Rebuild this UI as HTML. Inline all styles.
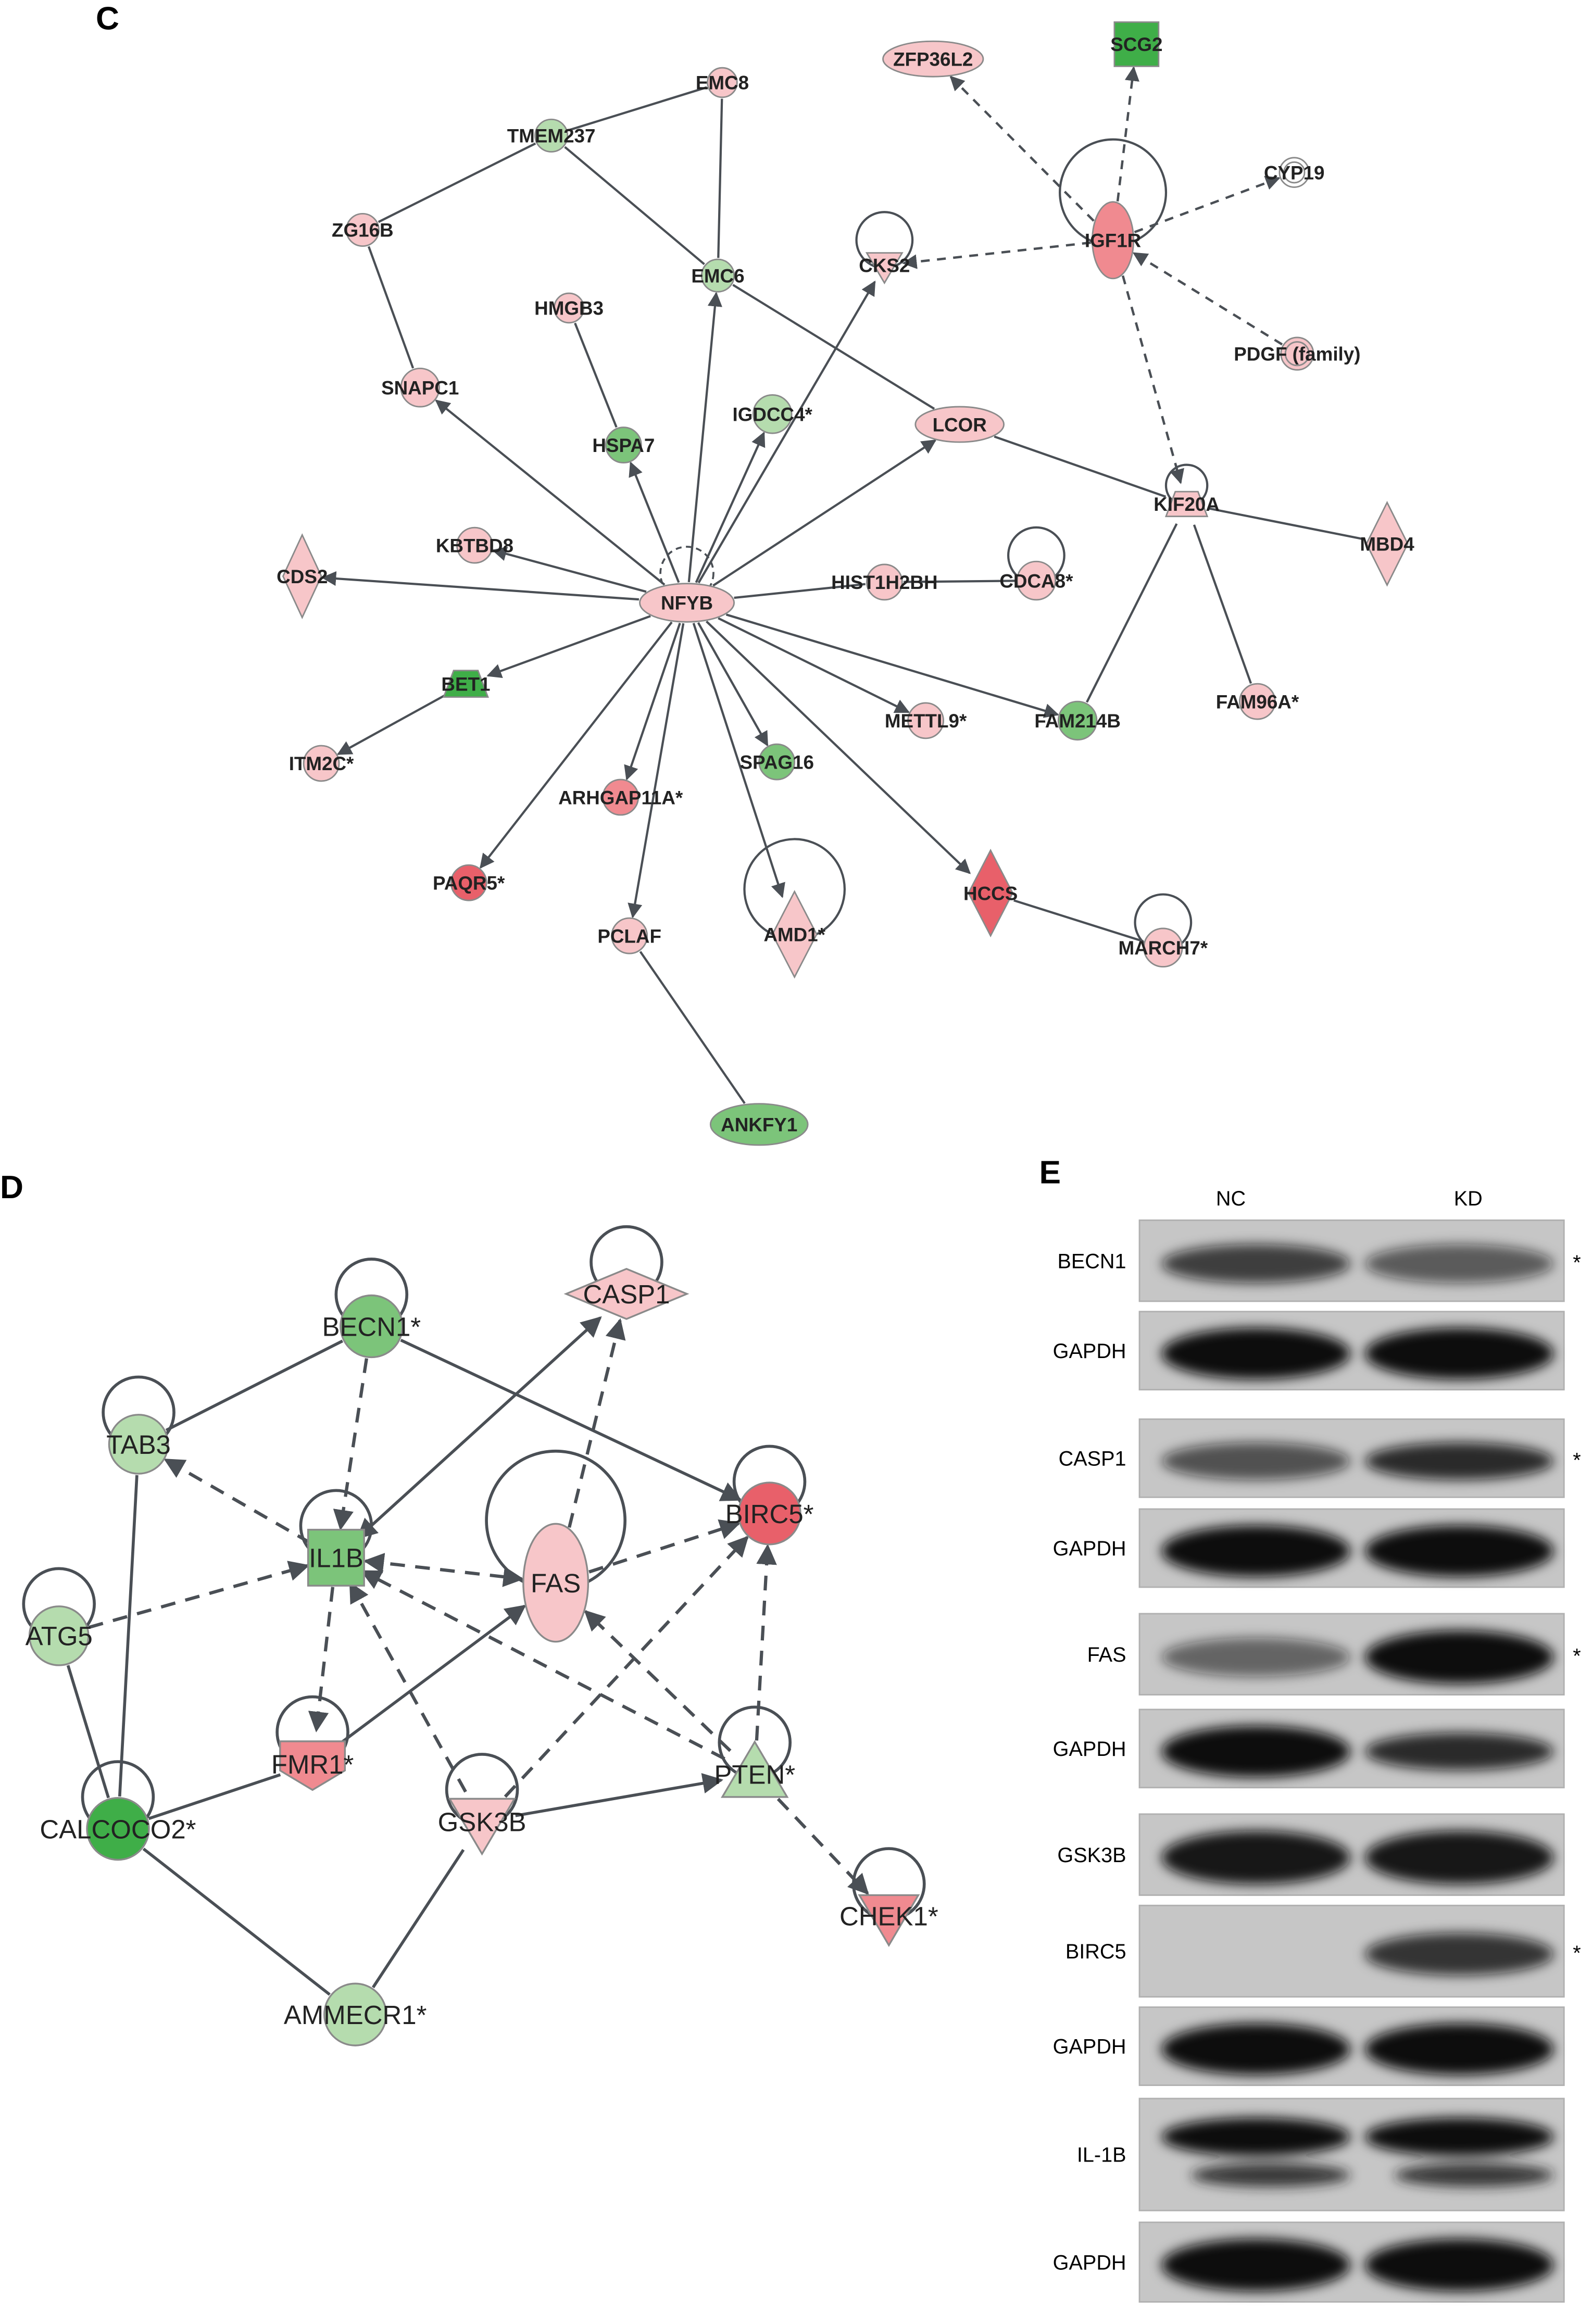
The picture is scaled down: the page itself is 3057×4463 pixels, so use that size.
<!DOCTYPE html>
<html><head><meta charset="utf-8"><style>
html,body{margin:0;padding:0;background:#fff;}
svg{display:block;}
text{font-family:"Liberation Sans",sans-serif;}
</style></head><body>
<svg id="s" xmlns="http://www.w3.org/2000/svg" width="3057" height="4463" viewBox="0 0 1080 1577" preserveAspectRatio="none">
<defs>
<marker id="ar2" viewBox="0 0 10 10" refX="9" refY="5" markerWidth="14" markerHeight="14" orient="auto-start-reverse" markerUnits="userSpaceOnUse"><path d="M0,0L10,5L0,10z" fill="#4a4f55"/></marker>
<marker id="ar1" viewBox="0 0 10 10" refX="9" refY="5" markerWidth="10" markerHeight="10" orient="auto-start-reverse" markerUnits="userSpaceOnUse"><path d="M0,0L10,5L0,10z" fill="#4a4f55"/></marker>
<filter id="bl" x="-20%" y="-50%" width="140%" height="200%"><feGaussianBlur stdDeviation="4"/></filter>
</defs>
<g id="edges"></g><g id="nodes"></g>
<text x="65" y="20" font-size="22" font-weight="bold">C</text>
<text x="0" y="813" font-size="22" font-weight="bold">D</text>
<text x="705" y="803" font-size="22" font-weight="bold">E</text>
<g id="blot"></g>
</svg>
<script>
var NS="http://www.w3.org/2000/svg",E=document.getElementById('edges'),N=document.getElementById('nodes'),B=document.getElementById('blot');
function el(p,t,a,txt){var e=document.createElementNS(NS,t);for(var k in a)e.setAttribute(k,a[k]);if(txt)e.textContent=txt;p.appendChild(e);return e;}
var P='#f7c6c9',R='#f08a90',RR='#e8606a',G='#7cc47a',LG='#b5dcae',DG='#3fae48';
var C={
EMC8:[490,56,'c',P,10],TMEM237:[374,92,'c',LG,11],ZG16B:[246,156,'c',P,11],EMC6:[487,187,'c',LG,11],
HMGB3:[386,209,'c',P,10],CKS2:[600,180,'tv',P,12,'CKS2',1],IGF1R:[755,163,'e',R,[14,26],'IGF1R*',1],
ZFP36L2:[633,40,'e',P,[34,12]],SCG2:[771,30,'sq',DG,15],CYP19:[878,117,'dc','#fff',10],'PDGF (family)':[880,240,'dc',P,11],
SNAPC1:[285,263,'c',P,13],HSPA7:[423,302,'c',G,12],'IGDCC4*':[524,281,'c',LG,13],LCOR:[651,288,'e',P,[30,12]],
KIF20A:[805,342,'tr',P,14,'KIF20A',1],MBD4:[941,369,'d',P,[14,28]],KBTBD8:[322,370,'c',P,12],CDS2:[205,391,'d',P,[13,28]],
NFYB:[466,409,'e',P,[32,13]],HIST1H2BH:[600,395,'c',P,12],'CDCA8*':[703,394,'c',P,13,'CDCA8*',1],BET1:[316,464,'tr',DG,15],
'ITM2C*':[218,518,'c',P,12],'METTL9*':[628,489,'c',P,12],FAM214B:[731,489,'c',G,13],'FAM96A*':[853,476,'c',P,12],
SPAG16:[527,517,'c',G,12],'ARHGAP11A*':[421,541,'c',R,12],'PAQR5*':[318,599,'c',RR,12],PCLAF:[427,635,'c',P,12],
'AMD1*':[539,634,'d',P,[15,29],'AMD1*',2],HCCS:[672,606,'d',RR,[15,29]],'MARCH7*':[789,643,'c',P,13,'MARCH7*',1],
ANKFY1:[515,763,'e',G,[33,14]]};
var D={
'BECN1*':[252,900,'c',G,21,0,1],'CASP1':[425,878,'d',P,[41,17],0,1],TAB3:[94,980,'c',LG,20,0,1],IL1B:[228,1057,'sq',G,19,0,1],
FAS:[377,1074,'e',P,[22,40],0,3],'BIRC5*':[522,1027,'c',RR,21,0,1],ATG5:[40,1110,'c',LG,20,0,1],'FMR1*':[212,1197,'pent',R,22,0,1],
GSK3B:[327,1236,'tv',P,22,0,1],'PTEN*':[512,1204,'tu',LG,22,0,1],'CALCOCO2*':[80,1241,'c',DG,21,0,1],'CHEK1*':[603,1300,'tv',R,20,0,1],
'AMMECR1*':[241,1367,'c',LG,21]};
function rad(n,dx,dy){var r=n[4];if(typeof r==='object'){var a=Math.atan2(dy,dx);var c=Math.cos(a),s=Math.sin(a);return 1/Math.sqrt(c*c/(r[0]*r[0])+s*s/(r[1]*r[1]));}return r;}
function edge(M,a,b,opt){var A=M[a],Bn=M[b];var dx=Bn[0]-A[0],dy=Bn[1]-A[1],L=Math.hypot(dx,dy);var ra=rad(A,dx,dy)+1,rb=rad(Bn,-dx,-dy)+1;
var x1=A[0]+dx/L*ra,y1=A[1]+dy/L*ra,x2=Bn[0]-dx/L*rb,y2=Bn[1]-dy/L*rb;
var at={x1:x1,y1:y1,x2:x2,y2:y2,stroke:'#4a4f55','stroke-width':opt.w||1.6};
if(opt.d)at['stroke-dasharray']=opt.d;var mk=opt.big?'url(#ar2)':'url(#ar1)';
if(opt.e)at['marker-end']=mk;if(opt.s)at['marker-start']=mk;el(E,'line',at);}
function loop(n,big,sz,w){var x=n[0],y=n[1];var r=sz;el(E,'circle',{cx:x,cy:y-r*0.9,r:r,fill:'none',stroke:'#4a4f55','stroke-width':w});}
function drawNode(M,k,fs,lw){var n=M[k],x=n[0],y=n[1],s=n[2],c=n[3],r=n[4],at={fill:c,stroke:'#8a8a8a','stroke-width':lw};
if(s=='c')el(N,'circle',Object.assign({cx:x,cy:y,r:r},at));
else if(s=='dc'){el(N,'circle',Object.assign({cx:x,cy:y,r:r},at));el(N,'circle',{cx:x,cy:y,r:r-3,fill:'none',stroke:'#8a8a8a','stroke-width':lw});}
else if(s=='e')el(N,'ellipse',Object.assign({cx:x,cy:y,rx:r[0],ry:r[1]},at));
else if(s=='sq')el(N,'rect',Object.assign({x:x-r,y:y-r,width:2*r,height:2*r},at));
else if(s=='d')el(N,'polygon',Object.assign({points:(x-r[0])+','+y+' '+x+','+(y-r[1])+' '+(x+r[0])+','+y+' '+x+','+(y+r[1])},at));
else if(s=='tv')el(N,'polygon',Object.assign({points:(x-r)+','+(y-r*0.7)+' '+(x+r)+','+(y-r*0.7)+' '+x+','+(y+r)},at));
else if(s=='tu')el(N,'polygon',Object.assign({points:(x-r)+','+(y+r*0.7)+' '+(x+r)+','+(y+r*0.7)+' '+x+','+(y-r)},at));
else if(s=='tr')el(N,'polygon',Object.assign({points:(x-r)+','+(y+r*0.6)+' '+(x+r)+','+(y+r*0.6)+' '+(x+r*0.55)+','+(y-r*0.6)+' '+(x-r*0.55)+','+(y-r*0.6)},at));
else if(s=='pent')el(N,'polygon',Object.assign({points:(x-r)+','+(y-r*0.7)+' '+(x+r)+','+(y-r*0.7)+' '+(x+r)+','+(y+r*0.2)+' '+x+','+(y+r*0.8)+' '+(x-r)+','+(y+r*0.2)},at));
el(N,'text',{x:x,y:y+fs*0.36,'font-size':fs,'font-weight':M===C?'bold':'normal','text-anchor':'middle',fill:'#222'},k);}
var so={e:1,w:1.5},ln={w:1.5},da={e:1,d:'6,5',w:1.6};
['SNAPC1','EMC6','HSPA7','IGDCC4*','CKS2','LCOR','KBTBD8','CDS2','BET1','METTL9*','FAM214B','SPAG16','ARHGAP11A*','PAQR5*','PCLAF','AMD1*','HCCS'].forEach(function(b){edge(C,'NFYB',b,so);});
edge(C,'NFYB','HIST1H2BH',ln);edge(C,'HIST1H2BH','CDCA8*',ln);edge(C,'BET1','ITM2C*',so);edge(C,'HMGB3','HSPA7',ln);
[['TMEM237','EMC8'],['TMEM237','ZG16B'],['TMEM237','EMC6'],['EMC8','EMC6'],['ZG16B','SNAPC1'],['EMC6','LCOR'],['LCOR','KIF20A'],['KIF20A','MBD4'],['KIF20A','FAM214B'],['KIF20A','FAM96A*'],['HCCS','MARCH7*'],['PCLAF','ANKFY1']].forEach(function(p){edge(C,p[0],p[1],ln);});
['ZFP36L2','SCG2','CYP19','CKS2','KIF20A'].forEach(function(b){edge(C,'IGF1R',b,da);});edge(C,'PDGF (family)','IGF1R',da);
loop(C.IGF1R,0,36,1.5);loop(C.CKS2,0,19,1.5);loop(C.KIF20A,0,14,1.5);loop(C['CDCA8*'],0,19,1.5);loop(C['AMD1*'],0,34,1.5);loop(C['MARCH7*'],0,19,1.5);
el(E,'circle',{cx:466,cy:389,r:18,fill:'none',stroke:'#4a4f55','stroke-width':1.3,'stroke-dasharray':'4,3'});
for(var k in C)drawNode(C,k,13,1);
var sD={e:1,w:2,big:1},lD={w:2},dD={e:1,d:'10,7',w:2.2,big:1};
[['BECN1*','TAB3'],['TAB3','CALCOCO2*'],['ATG5','CALCOCO2*'],['CALCOCO2*','FMR1*'],['CALCOCO2*','AMMECR1*'],['AMMECR1*','GSK3B']].forEach(function(p){edge(D,p[0],p[1],lD);});
edge(D,'BECN1*','BIRC5*',sD);edge(D,'GSK3B','PTEN*',sD);edge(D,'FMR1*','FAS',sD);edge(D,'IL1B','CASP1',{e:1,s:1,w:2,big:1});
[['BECN1*','IL1B'],['IL1B','TAB3'],['ATG5','IL1B'],['IL1B','FMR1*'],['FAS','CASP1'],['FAS','BIRC5*'],['GSK3B','IL1B'],['GSK3B','BIRC5*'],['PTEN*','IL1B'],['PTEN*','FAS'],['PTEN*','BIRC5*'],['PTEN*','CHEK1*']].forEach(function(p){edge(D,p[0],p[1],dD);});
edge(D,'IL1B','FAS',{e:1,s:1,d:'10,7',w:2.2,big:1});
for(var k in D){var n=D[k];if(n[6])loop(n,0,n[6]==3?47:24,2);}
for(var k in D)drawNode(D,k,18,1.2);
var rows=[['BECN1',828,883,[.75,.6],1],['GAPDH',890,943,[1,1]],['CASP1',963,1016,[.65,.85],1],['GAPDH',1024,1077,[1,1]],['FAS',1095,1150,[.55,1],1],['GAPDH',1160,1213,[1,.85]],['GSK3B',1231,1286,[.95,.95]],['BIRC5',1293,1355,[0,.8],1],['GAPDH',1362,1415,[1,1]],['IL-1B',1424,1500,[1,1]],['GAPDH',1508,1562,[1,1]]];
el(B,'text',{x:835,y:818,'font-size':14,'text-anchor':'middle'},'NC');el(B,'text',{x:996,y:818,'font-size':14,'text-anchor':'middle'},'KD');
rows.forEach(function(r){var y0=r[1],y1=r[2],h=y1-y0,cy=(y0+y1)/2;
el(B,'rect',{x:773,y:y0,width:288,height:h,fill:'#c6c6c6',stroke:'#b0b0b0','stroke-width':1});
el(B,'text',{x:764,y:cy+5,'font-size':14,'text-anchor':'end'},r[0]);
if(r[4])el(B,'text',{x:1067,y:cy+6,'font-size':14},'*');
var g=el(B,'g',{filter:'url(#bl)'});
[[852,r[3][0]],[990,r[3][1]]].forEach(function(l){if(!l[1])return;var o=l[1];
if(r[0]=='IL-1B'){el(g,'ellipse',{cx:l[0],cy:cy-12,rx:64,ry:13,fill:'#111'});el(g,'ellipse',{cx:l[0]+10,cy:cy+14,rx:54,ry:8,fill:'#222','fill-opacity':.85});}
else el(g,'ellipse',{cx:l[0],cy:cy+2,rx:64,ry:Math.min(h*0.3,18)*(o>0.9?1.1:0.8),fill:'#111','fill-opacity':o});});
});
</script>
</body></html>
